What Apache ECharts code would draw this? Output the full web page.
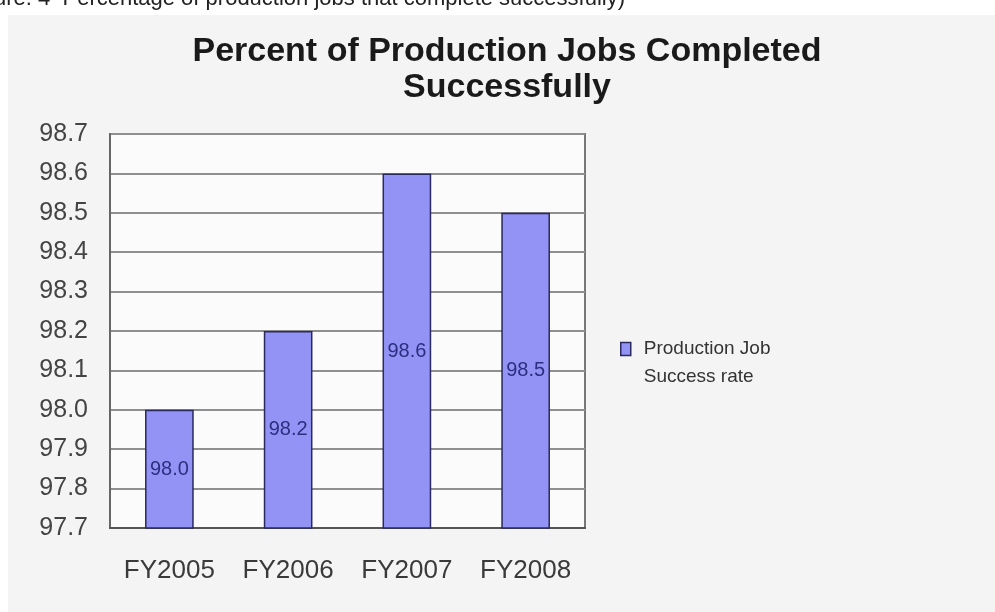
<!DOCTYPE html>
<html>
<head>
<meta charset="utf-8">
<script src="https://cdn.jsdelivr.net/npm/echarts@6/dist/echarts.min.js"></script>
<style>
  html, body { margin: 0; padding: 0; background: #fff; }
  #chart { width: 995px; height: 612px; }
</style>
</head>
<body>
<div id="chart"></div>
<script>
// chart data
var years = ['FY2005', 'FY2006', 'FY2007', 'FY2008'];
var successRate = [98.0, 98.2, 98.6, 98.5];
var seriesName = 'Production Job\nSuccess rate';
var yMin = 97.7, yMax = 98.7, yStep = 0.1;

var chart = echarts.init(document.getElementById('chart'));

chart.setOption({
  backgroundColor: '#ffffff',
  animation: false,
  graphic: [
    // grey panel behind the chart, top strip stays white
    { type: 'rect', left: 8, top: 15, shape: { width: 990, height: 600 }, style: { fill: '#f4f4f4' }, z: -10 },
    // caption line cut off at the top of the picture
    { type: 'text', left: -6, top: -12, style: {
        text: 'ure. 4  Percentage of production jobs that complete successfully)',
        font: '22px "Liberation Sans", Arial, sans-serif', fill: '#222' } }
  ],
  title: {
    text: 'Percent of Production Jobs Completed\nSuccessfully',
    left: 502,
    textAlign: 'center',
    top: 29,
    textStyle: {
      fontFamily: '"Liberation Sans", Arial, sans-serif',
      fontWeight: 'bold',
      fontSize: 34,
      lineHeight: 36,
      color: '#1a1a1a'
    }
  },
  legend: {
    left: 615,
    top: 330,
    orient: 'vertical',
    itemWidth: 18,
    itemHeight: 41,
    // square sits on the first text line; the lone moveTo only widens the box
    icon: 'path://M0,0L10,0L10,13L0,13Z M18,41',
    itemStyle: { borderColor: '#2a2a5e', borderWidth: 1.5 },
    textStyle: {
      fontFamily: '"Liberation Sans", Arial, sans-serif',
      fontSize: 19,
      lineHeight: 28,
      color: '#333'
    },
    data: [seriesName]
  },
  grid: {
    left: 110,
    right: 410,
    top: 134,
    bottom: 84,
    show: true,
    backgroundColor: '#fbfbfb',
    borderColor: '#777',
    borderWidth: 2
  },
  xAxis: {
    type: 'category',
    data: years,
    axisTick: { show: false },
    axisLine: { lineStyle: { color: '#555', width: 2 } },
    axisLabel: {
      interval: 0,
      margin: 30,
      fontFamily: '"Liberation Sans", Arial, sans-serif',
      fontSize: 26,
      color: '#3a3a3a'
    }
  },
  yAxis: {
    type: 'value',
    min: yMin,
    max: yMax,
    interval: yStep,
    axisLine: { show: true, lineStyle: { color: '#666', width: 2 } },
    axisTick: { show: false },
    splitLine: { lineStyle: { color: '#8f8f8f', width: 2 } },
    axisLabel: {
      margin: 22,
      fontFamily: '"Liberation Sans", Arial, sans-serif',
      fontSize: 25,
      color: '#444',
      formatter: function (v) { return v.toFixed(1); }
    }
  },
  series: [{
    name: seriesName,
    type: 'bar',
    data: successRate,
    barWidth: '41%',
    itemStyle: { color: '#9393f5', borderColor: '#2a2a5e', borderWidth: 1.5 },
    label: {
      show: true,
      position: 'inside',
      fontFamily: '"Liberation Sans", Arial, sans-serif',
      fontSize: 20,
      color: '#2e2e80',
      formatter: function (p) { return p.value.toFixed(1); }
    }
  }]
});
</script>
</body>
</html>
